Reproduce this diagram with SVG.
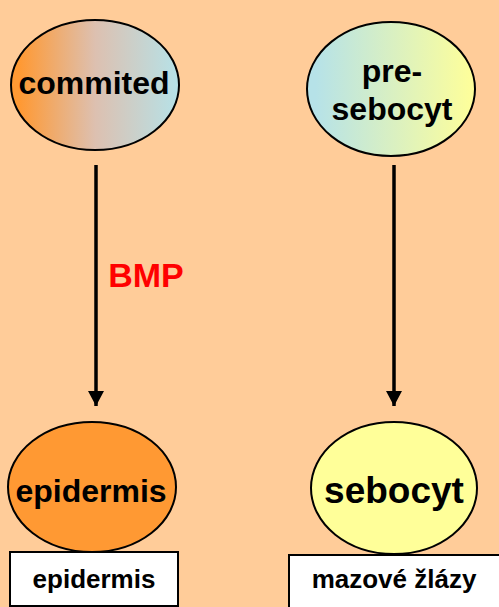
<svg xmlns="http://www.w3.org/2000/svg" width="499" height="607" viewBox="0 0 499 607">
<defs>
<linearGradient id="gCommit" x1="0" y1="0" x2="1" y2="0">
<stop offset="0.05" stop-color="#FF9933"/>
<stop offset="0.5" stop-color="#DDC0B0"/>
<stop offset="1" stop-color="#B6E2E8"/>
</linearGradient>
<linearGradient id="gPre" x1="0" y1="0" x2="1" y2="0">
<stop offset="0.05" stop-color="#B6E2E8"/>
<stop offset="1" stop-color="#FFFF99"/>
</linearGradient>
<marker id="arr" markerUnits="userSpaceOnUse" markerWidth="16" markerHeight="16" viewBox="0 0 15 16" refX="15" refY="8" orient="auto">
<path d="M0,0 L15,8 L0,16 Z" fill="#000"/>
</marker>
<style>
.node{stroke:#000;stroke-width:2}
.t{font-family:"Liberation Sans",Arial,sans-serif;font-weight:bold;fill:#000;text-anchor:middle}
.box{fill:#fff;stroke:#000;stroke-width:2}
.conn{stroke:#000;stroke-width:3.5;fill:none}
</style>
</defs>
<rect x="0" y="0" width="499" height="607" fill="#FFCC99"/>
<g id="connectors">
<line class="conn" x1="96" y1="165" x2="96" y2="406" marker-end="url(#arr)"/>
<line class="conn" x1="394" y1="165" x2="394" y2="406" marker-end="url(#arr)"/>
<text class="t" x="146" y="287" font-size="34" style="fill:#FF0000">BMP</text>
</g>
<g id="commited">
<ellipse class="node" cx="95" cy="85" rx="84" ry="65" fill="url(#gCommit)"/>
<text class="t" x="94" y="94" font-size="32">commited</text>
</g>
<g id="pre-sebocyt">
<ellipse class="node" cx="391" cy="89" rx="84" ry="67" fill="url(#gPre)"/>
<text class="t" x="392" y="82" font-size="32">pre-</text>
<text class="t" x="392" y="120" font-size="32">sebocyt</text>
</g>
<g id="epidermis">
<ellipse class="node" cx="92" cy="487" rx="84" ry="65" fill="#FF9933"/>
<text class="t" x="91" y="502" font-size="32">epidermis</text>
</g>
<g id="sebocyt">
<ellipse class="node" cx="394" cy="488" rx="83" ry="66" fill="#FFFF99"/>
<text class="t" x="394" y="503" font-size="37">sebocyt</text>
</g>
<g id="epidermis-label">
<rect class="box" x="10" y="552" width="168" height="54"/>
<text class="t" x="94" y="588" font-size="26">epidermis</text>
</g>
<g id="mazove-label">
<rect class="box" x="289" y="555" width="212" height="54"/>
<text class="t" x="394" y="588" font-size="26">mazové žlázy</text>
</g>
</svg>
